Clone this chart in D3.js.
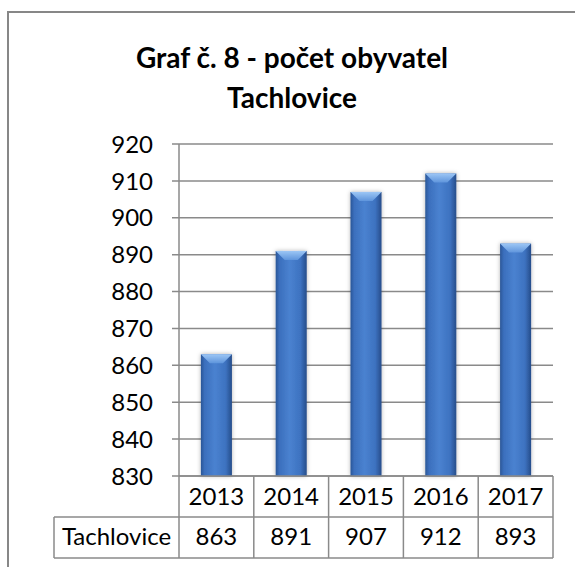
<!DOCTYPE html>
<html>
<head>
<meta charset="utf-8">
<script src="https://cdn.jsdelivr.net/npm/d3@7"></script>
<style>
  html, body { margin: 0; padding: 0; background: #fff; }
  svg { display: block; font-family: Lato, "Open Sans", sans-serif; }
</style>
</head>
<body>
<div id="chart"></div>
<script>
// chart values
const years = ['2013', '2014', '2015', '2016', '2017'];
const population = [863, 891, 907, 912, 893];
const seriesName = 'Tachlovice';
const yTicks = [830, 840, 850, 860, 870, 880, 890, 900, 910, 920];
const titleLines = ['Graf č. 8 - počet obyvatel', 'Tachlovice'];

const width = 575, height = 567;
const plot = { left: 179, right: 553, top: 144, bottom: 476 };
const rowH = 41;
const tableLeft = 54;
const gridColor = '#8a8a8a';
const labelSize = 24;

const svg = d3.select('#chart').append('svg')
  .attr('width', width)
  .attr('height', height);

const defs = svg.append('defs');

const barGrad = defs.append('linearGradient')
  .attr('id', 'barGrad')
  .attr('x1', '0%').attr('x2', '100%').attr('y1', '0%').attr('y2', '0%');
[['0%', '#2a5697'], ['12%', '#3b6fbd'], ['45%', '#4a82d0'], ['80%', '#3d72c0'], ['100%', '#264d8a']]
  .forEach(([o, c]) => barGrad.append('stop').attr('offset', o).attr('stop-color', c));

const capGrad = defs.append('linearGradient')
  .attr('id', 'capGrad')
  .attr('x1', '0%').attr('x2', '0%').attr('y1', '0%').attr('y2', '100%');
capGrad.append('stop').attr('offset', '0%').attr('stop-color', '#9cc6f5');
capGrad.append('stop').attr('offset', '100%').attr('stop-color', '#5f95dc');

const shadow = defs.append('filter').attr('id', 'shadow')
  .attr('x', '-30%').attr('y', '-10%').attr('width', '160%').attr('height', '120%');
shadow.append('feDropShadow')
  .attr('dx', 0).attr('dy', 0).attr('stdDeviation', 2)
  .attr('flood-color', '#000').attr('flood-opacity', 0.3);

// outer frame (runs off the picture on right and bottom)
svg.append('rect')
  .attr('x', 8).attr('y', 12)
  .attr('width', 600).attr('height', 600)
  .attr('fill', 'none')
  .attr('stroke', '#878787')
  .attr('stroke-width', 2);

// title
svg.append('g')
  .selectAll('text')
  .data(titleLines)
  .join('text')
  .attr('x', 292)
  .attr('y', (d, i) => 68 + i * 40)
  .attr('text-anchor', 'middle')
  .attr('font-weight', 'bold')
  .attr('font-size', 28)
  .attr('fill', '#000')
  .text(d => d);

// scales
const x = d3.scaleBand()
  .domain(years)
  .range([plot.left, plot.right])
  .paddingInner(0.585)
  .paddingOuter(0.2925);

const y = d3.scaleLinear()
  .domain([830, 920])
  .range([plot.bottom, plot.top]);

// gridlines with short ticks left of the axis
svg.append('g')
  .selectAll('line')
  .data(yTicks)
  .join('line')
  .attr('x1', plot.left - 7)
  .attr('x2', plot.right)
  .attr('y1', d => y(d))
  .attr('y2', d => y(d))
  .attr('stroke', gridColor)
  .attr('stroke-width', 1.5);

// y axis line, continues down as the table's first column line
svg.append('line')
  .attr('x1', plot.left).attr('x2', plot.left)
  .attr('y1', plot.top).attr('y2', plot.bottom + rowH * 2)
  .attr('stroke', gridColor)
  .attr('stroke-width', 1.5);

// y labels
svg.append('g')
  .selectAll('text')
  .data(yTicks)
  .join('text')
  .attr('x', 153)
  .attr('y', d => y(d))
  .attr('dy', '0.36em')
  .attr('text-anchor', 'end')
  .attr('font-size', labelSize)
  .attr('fill', '#000')
  .text(d => d);

// bars
const bars = svg.append('g')
  .selectAll('g')
  .data(population)
  .join('g')
  .attr('filter', 'url(#shadow)');

bars.append('rect')
  .attr('x', (d, i) => x(years[i]))
  .attr('y', d => y(d))
  .attr('width', x.bandwidth())
  .attr('height', d => y(830) - y(d))
  .attr('fill', 'url(#barGrad)');

// bevelled top
bars.append('polygon')
  .attr('points', (d, i) => {
    const x0 = x(years[i]), x1 = x0 + x.bandwidth(), t = y(d);
    return [[x0, t], [x1, t], [x1 - 9, t + 9], [x0 + 9, t + 9]].join(' ');
  })
  .attr('fill', 'url(#capGrad)');

// data table
const table = svg.append('g');
const gap = (x.step() - x.bandwidth()) / 2;

const hLines = [
  [plot.left, plot.bottom],
  [tableLeft, plot.bottom + rowH],
  [tableLeft, plot.bottom + rowH * 2]
];
table.selectAll('.h-line')
  .data(hLines)
  .join('line')
  .attr('class', 'h-line')
  .attr('x1', d => d[0]).attr('x2', plot.right)
  .attr('y1', d => d[1]).attr('y2', d => d[1])
  .attr('stroke', gridColor).attr('stroke-width', 1.5);

table.append('line')
  .attr('x1', tableLeft).attr('x2', tableLeft)
  .attr('y1', plot.bottom + rowH).attr('y2', plot.bottom + rowH * 2)
  .attr('stroke', gridColor).attr('stroke-width', 1.5);

// column separators
table.selectAll('.col-line')
  .data(years)
  .join('line')
  .attr('class', 'col-line')
  .attr('x1', d => x(d) + x.bandwidth() + gap)
  .attr('x2', d => x(d) + x.bandwidth() + gap)
  .attr('y1', plot.bottom)
  .attr('y2', plot.bottom + rowH * 2)
  .attr('stroke', gridColor).attr('stroke-width', 1.5);

table.selectAll('.year')
  .data(years)
  .join('text')
  .attr('class', 'year')
  .attr('x', d => x(d) + x.bandwidth() / 2)
  .attr('y', plot.bottom + 29)
  .attr('text-anchor', 'middle')
  .attr('font-size', labelSize)
  .text(d => d);

table.selectAll('.val')
  .data(population)
  .join('text')
  .attr('class', 'val')
  .attr('x', (d, i) => x(years[i]) + x.bandwidth() / 2)
  .attr('y', plot.bottom + rowH + 28)
  .attr('text-anchor', 'middle')
  .attr('font-size', labelSize)
  .text(d => d);

table.append('text')
  .attr('x', (tableLeft + plot.left) / 2)
  .attr('y', plot.bottom + rowH + 28)
  .attr('text-anchor', 'middle')
  .attr('font-size', labelSize)
  .text(seriesName);
</script>
</body>
</html>
